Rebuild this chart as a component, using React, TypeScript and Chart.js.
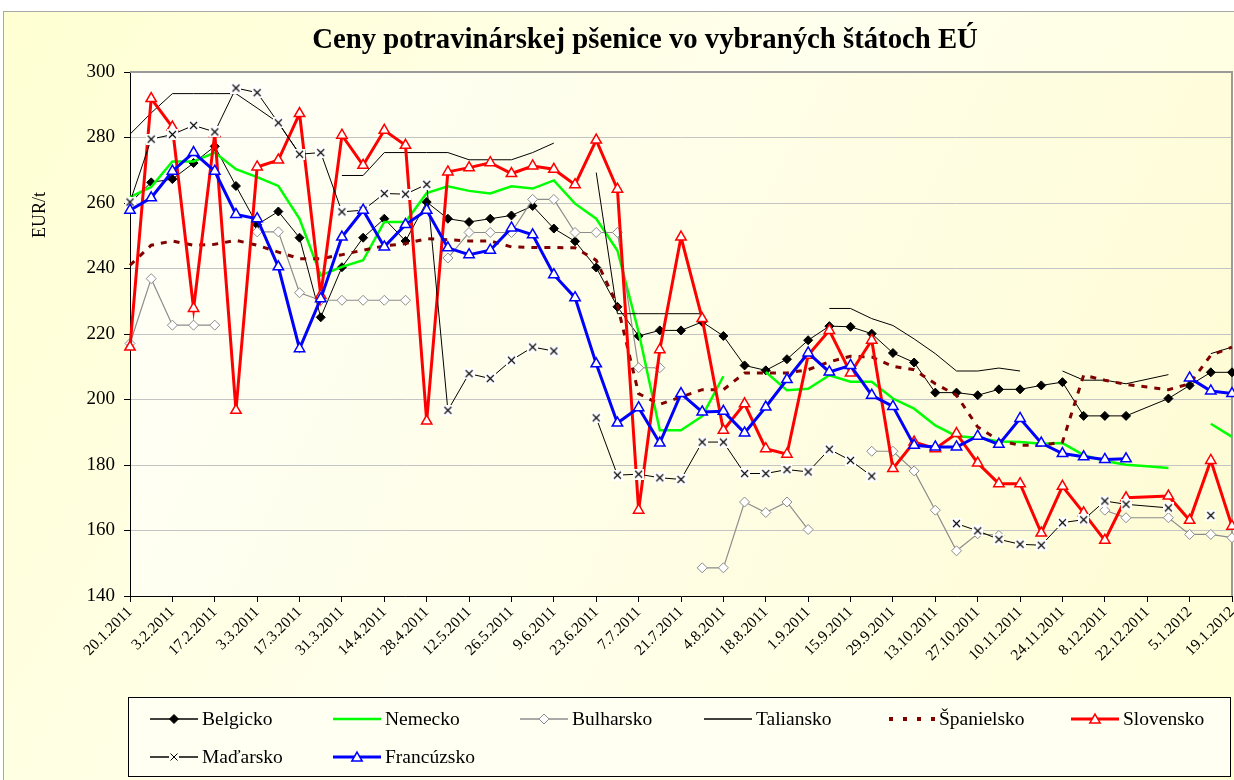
import React, { useEffect, useRef } from 'react';
import { Chart, registerables } from 'chart.js';

Chart.register(...registerables);

const chartTitle = 'Ceny potravinárskej pšenice vo vybraných štátoch EÚ';
const yAxisTitle = 'EUR/t';

const weeks = [
  '20.1.2011', '27.1.2011', '3.2.2011', '10.2.2011', '17.2.2011', '24.2.2011', '3.3.2011', '10.3.2011',
  '17.3.2011', '24.3.2011', '31.3.2011', '7.4.2011', '14.4.2011', '21.4.2011', '28.4.2011', '5.5.2011',
  '12.5.2011', '19.5.2011', '26.5.2011', '2.6.2011', '9.6.2011', '16.6.2011', '23.6.2011', '30.6.2011',
  '7.7.2011', '14.7.2011', '21.7.2011', '28.7.2011', '4.8.2011', '11.8.2011', '18.8.2011', '25.8.2011',
  '1.9.2011', '8.9.2011', '15.9.2011', '22.9.2011', '29.9.2011', '6.10.2011', '13.10.2011', '20.10.2011',
  '27.10.2011', '3.11.2011', '10.11.2011', '17.11.2011', '24.11.2011', '1.12.2011', '8.12.2011', '15.12.2011',
  '22.12.2011', '29.12.2011', '5.1.2012', '12.1.2012', '19.1.2012',
];

// week whose missing values are bridged by the lines (all other gaps break the line)
const bridgedWeek = '22.12.2011';

const yMin = 140;
const yMax = 300;
const yStep = 20;

const belgicko = [
  260, 266.3, 267.3, 272.2, 277.3, 265.2, 253.4, 257.4, 249.4, 225.1,
  240.4, 249.4, 255.2, 248.4, 260.3, 255.2, 254.2, 255.2, 256.2, 259.1,
  252.2, 248.3, 240.3, 228.3, 219.4, 221.1, 221.1, 223.7, 219.4, 210.4,
  208.9, 212.3, 218.1, 222.4, 222.2, 220.1, 214.2, 211.3, 202.1, 202.1,
  201.3, 203.1, 203.1, 204.3, 205.3, 195.0, 195.0, 195.0, null, 200.3,
  204.3, 208.3, 208.3,
];
const nemecko = [
  261.8, 264.9, 272.7, 272.7, 275.4, 270.3, 267.9, 265.2, 255.2, 237.9,
  240.5, 242.5, 254.2, 254.2, 263.0, 265.1, 263.7, 262.9, 265.1, 264.4,
  266.9, 259.8, 255.2, 245.5, 220.6, 190.6, 190.6, 194.9, 207.1, null,
  208.4, 202.8, 203.3, 207.4, 205.4, 205.4, 200.3, 197.2, 192.1, 188.8,
  188.3, 187.2, 187.0, 186.5, 186.7, 183.0, 181.2, 180.1, 179.6, 179.1,
  null, 192.6, 188.6,
];
const bulharsko = [
  217.1, 236.9, 222.7, 222.7, 222.7, null, 251.2, 251.2, 232.6, 230.3,
  230.3, 230.3, 230.3, 230.3, null, 243.2, 251.0, 251.0, 251.0, 261.1,
  261.1, 251.0, 251.0, 251.0, 209.7, 209.7, null, 148.6, 148.6, 168.7,
  165.5, 168.7, 160.3, null, null, 184.2, 184.2, 178.2, 166.2, 153.8,
  159.0, 158.5, null, null, null, null, 166.2, 163.9, null, 163.9,
  158.8, 158.8, 157.8,
];
const taliansko = [
  281.0, 287.5, 293.4, 293.4, 293.4, 293.4, 289.0, 284.5, 275.0, null,
  268.4, 268.4, 275.4, 275.4, 275.4, 275.4, 273.2, 273.2, 273.2, 275.4,
  278.3, null, 269.3, 226.2, 226.2, 226.2, 226.2, 226.2, null, null,
  null, null, null, 227.8, 227.8, 224.7, 222.6, 218.5, 214.0, 208.7,
  208.7, 209.6, 208.7, null, 208.7, 205.9, 205.9, 204.8, null, 207.6,
  null, 214.0, 216.0,
];
const spanielsko = [
  241.0, 247.1, 248.4, 247.1, 247.4, 248.6, 247.1, 245.0, 243.0, 243.0,
  244.2, 245.6, 246.9, 247.6, 249.1, 248.8, 248.4, 248.4, 246.6, 246.4,
  246.4, 246.3, 242.5, 228.8, 201.8, 198.5, 200.8, 203.0, 203.0, 208.1,
  208.1, 208.1, 209.1, 211.5, 213.2, 213.0, 210.1, 209.1, 204.8, 201.3,
  191.6, 187.5, 186.0, 186.0, 187.0, 207.4, 205.9, 204.6, 203.8, 203.0,
  204.8, 213.5, 216.0,
];
const slovensko = [
  216.0, 291.9, 283.2, 227.8, 281.2, 196.7, 271.0, 273.1, 287.3, 231.8,
  280.7, 271.5, 282.2, 277.6, 193.4, 269.5, 270.8, 272.3, 269.0, 271.3,
  270.3, 265.6, 279.2, 264.2, 166.2, 215.2, 249.6, 224.7, 190.6, 198.7,
  185.0, 183.3, 213.5, 221.1, 208.1, 218.1, 178.9, 187.0, 185.0, 189.6,
  180.6, 174.3, 174.3, 159.2, 173.5, 165.4, 157.0, 170.0, null, 170.5,
  163.1, 181.4, 161.3,
];
const madarsko = [
  260.3, 279.5, 280.9, 283.7, 281.7, 295.1, 293.7, 284.5, 274.9, 275.4,
  257.3, 257.8, 262.9, 262.7, 265.7, 196.7, 207.9, 206.4, 212.0, 216.0,
  214.8, null, 194.4, 176.9, 177.2, 176.1, 175.6, 187.0, 187.0, 177.4,
  177.4, 178.6, 177.9, 184.8, 181.4, 176.6, null, null, null, 162.1,
  159.9, 157.3, 155.8, 155.5, 162.4, 163.3, 169.0, 168.0, null, 166.9,
  null, 164.6, null,
];
const francuzsko = [
  257.8, 261.6, 269.7, 275.4, 269.7, 256.5, 255.2, 240.5, 215.5, 230.8,
  249.6, 257.8, 246.6, 253.4, 257.8, 246.3, 244.2, 245.6, 252.4, 250.3,
  238.1, 231.1, 210.9, 192.8, 197.5, 186.7, 201.8, 196.2, 196.4, 189.8,
  197.7, 206.1, 214.2, 208.4, 210.4, 201.3, 197.9, 186.0, 185.5, 185.5,
  188.8, 186.3, 194.2, 186.7, 183.5, 182.5, 181.7, 181.9, null, null,
  206.6, 202.6, 201.8,
];

const seriesNames = ['Belgicko', 'Nemecko', 'Bulharsko', 'Taliansko', 'Španielsko', 'Slovensko', 'Maďarsko', 'Francúzsko'];
const seriesData = [belgicko, nemecko, bulharsko, taliansko, spanielsko, slovensko, madarsko, francuzsko];

const SERIF = "'Liberation Serif', 'Times New Roman', 'DejaVu Serif', serif";

type Marker = 'diamondFilled' | 'diamondHollow' | 'triangle' | 'cross' | 'none';
interface Style { color: string; width: number; dash?: number[]; marker: Marker; }

const seriesStyles: Style[] = [
  { color: '#000000', width: 1, marker: 'diamondFilled' },
  { color: '#00FF00', width: 2.5, marker: 'none' },
  { color: '#8C8C8C', width: 1.2, marker: 'diamondHollow' },
  { color: '#000000', width: 1, marker: 'none' },
  { color: '#800000', width: 3, dash: [6, 7], marker: 'none' },
  { color: '#FF0000', width: 3, marker: 'triangle' },
  { color: '#000000', width: 1, marker: 'cross' },
  { color: '#0000FF', width: 3, marker: 'triangle' },
];

const legendLayout = [
  { x: 150, row: 0 }, { x: 333, row: 0 }, { x: 520, row: 0 }, { x: 704, row: 0 },
  { x: 887, row: 0 }, { x: 1071, row: 0 }, { x: 150, row: 1 }, { x: 333, row: 1 },
];

function makeCrossImage(size: number) {
  const c = document.createElement('canvas');
  c.width = size; c.height = size;
  const g = c.getContext('2d')!;
  g.fillStyle = '#ffffff';
  g.fillRect(0, 0, size, size);
  g.strokeStyle = '#000000';
  g.lineWidth = 1.1;
  g.beginPath();
  g.moveTo(2, 2); g.lineTo(size - 2, size - 2);
  g.moveTo(size - 2, 2); g.lineTo(2, size - 2);
  g.stroke();
  return c;
}

function drawDiamond(ctx: CanvasRenderingContext2D, x: number, y: number, r: number, fill: string, stroke: string) {
  ctx.beginPath();
  ctx.moveTo(x, y - r); ctx.lineTo(x + r, y); ctx.lineTo(x, y + r); ctx.lineTo(x - r, y); ctx.closePath();
  ctx.fillStyle = fill; ctx.fill();
  ctx.strokeStyle = stroke; ctx.lineWidth = 1; ctx.stroke();
}
function drawTriangle(ctx: CanvasRenderingContext2D, x: number, y: number, r: number, stroke: string) {
  ctx.beginPath();
  ctx.moveTo(x, y - r);
  ctx.lineTo(x + r * 0.866, y + r * 0.5);
  ctx.lineTo(x - r * 0.866, y + r * 0.5);
  ctx.closePath();
  ctx.fillStyle = '#ffffff'; ctx.fill();
  ctx.strokeStyle = stroke; ctx.lineWidth = 1.5; ctx.stroke();
}

const decorPlugin = {
  id: 'decor',
  beforeDraw(chart: any) {
    const { ctx, width, height, chartArea } = chart;
    ctx.save();
    ctx.fillStyle = '#ffffff';
    ctx.fillRect(0, 0, width, height);
    const g = ctx.createLinearGradient(0, 0, width, height);
    g.addColorStop(0, '#FFFFD2');
    g.addColorStop(0.5, '#FFFFEE');
    g.addColorStop(1, '#FFFFD6');
    ctx.fillStyle = g;
    ctx.fillRect(3, 11, width - 3, height - 11);
    ctx.strokeStyle = '#A8A8A8';
    ctx.lineWidth = 1;
    ctx.strokeRect(3.5, 11.5, width - 3, height - 11);
    const { left, top, right, bottom } = chartArea;
    const pg = ctx.createLinearGradient(left, top, right, bottom);
    pg.addColorStop(0, '#FFFFF8');
    pg.addColorStop(1, '#FEFCD4');
    ctx.fillStyle = pg;
    ctx.fillRect(left, top, right - left, bottom - top);
    ctx.restore();
  },
  beforeDatasetsDraw(chart: any) {
    const { ctx, chartArea } = chart;
    const { left, top, right, bottom } = chartArea;
    ctx.save();
    ctx.strokeStyle = '#9A9A9A';
    ctx.lineWidth = 2;
    ctx.beginPath();
    ctx.moveTo(left, top);
    ctx.lineTo(right, top);
    ctx.lineTo(right, bottom);
    ctx.stroke();
    ctx.restore();
  },
  afterDraw(chart: any) {
    const { ctx } = chart;
    ctx.save();
    // title
    let size = 28;
    ctx.font = `bold ${size}px ${SERIF}`;
    const w = ctx.measureText(chartTitle).width;
    size = Math.max(20, Math.min(34, size * 666 / w));
    ctx.font = `bold ${size}px ${SERIF}`;
    ctx.fillStyle = '#000';
    ctx.textAlign = 'center';
    ctx.textBaseline = 'middle';
    ctx.fillText(chartTitle, 645, 41);
    // y title
    ctx.save();
    ctx.translate(40, 215);
    ctx.rotate(-Math.PI / 2);
    ctx.font = `18px ${SERIF}`;
    ctx.fillText(yAxisTitle, 0, 0);
    ctx.restore();
    // legend
    ctx.fillStyle = '#FFFFF2';
    ctx.fillRect(128.5, 697.5, 1102, 79);
    ctx.strokeStyle = '#000';
    ctx.lineWidth = 1;
    ctx.strokeRect(128.5, 697.5, 1102, 79);
    const rows = [719, 757];
    ctx.textAlign = 'left';
    ctx.font = `19.5px ${SERIF}`;
    seriesNames.forEach((name, i) => {
      const st = seriesStyles[i];
      const lay = legendLayout[i];
      const y = rows[lay.row];
      const x0 = lay.x, x1 = lay.x + 48, xm = (x0 + x1) / 2;
      ctx.save();
      if (st.dash) {
        ctx.fillStyle = st.color;
        for (let k = 0; k < 4; k++) ctx.fillRect(x0 + 2 + k * 14, y - 2, 4, 4);
      } else {
        ctx.strokeStyle = st.color;
        ctx.lineWidth = Math.max(1.5, st.width);
        ctx.beginPath();
        ctx.moveTo(x0, y); ctx.lineTo(x1, y);
        ctx.stroke();
      }
      if (st.marker === 'diamondFilled') drawDiamond(ctx, xm, y, 4.5, '#000', '#000');
      if (st.marker === 'diamondHollow') drawDiamond(ctx, xm, y, 5, '#fff', st.color);
      if (st.marker === 'triangle') drawTriangle(ctx, xm, y + 1, 6, st.color);
      if (st.marker === 'cross') {
        ctx.fillStyle = '#FFFFF2';
        ctx.fillRect(xm - 5, y - 5, 10, 10);
        ctx.strokeStyle = '#000'; ctx.lineWidth = 1;
        ctx.beginPath();
        ctx.moveTo(xm - 3.5, y - 3.5); ctx.lineTo(xm + 3.5, y + 3.5);
        ctx.moveTo(xm + 3.5, y - 3.5); ctx.lineTo(xm - 3.5, y + 3.5);
        ctx.stroke();
      }
      ctx.restore();
      ctx.fillStyle = '#000';
      ctx.fillText(name, x1 + 4, y + 1);
    });
    ctx.restore();
  },
};

export default function App() {
  const ref = useRef<HTMLCanvasElement | null>(null);
  useEffect(() => {
    if (!ref.current) return;
    const bridged = weeks.indexOf(bridgedWeek);
    const cross = makeCrossImage(11);
    // a segment whose start index holds no value spans a gap; only the bridged week is drawn
    const segment = {
      borderColor: (c: any) => {
        const data = seriesData[c.datasetIndex];
        const a = c.p0DataIndex;
        if (data[a] === null || data[a] === undefined) {
          const ok = a === bridged && data[a - 1] != null && data[a + 1] != null;
          if (!ok) return 'rgba(0,0,0,0)';
        }
        return undefined;
      },
    };
    const datasets = seriesNames.map((name, i) => {
      const st = seriesStyles[i];
      const base: any = {
        label: name,
        data: seriesData[i],
        borderColor: st.color,
        backgroundColor: st.color,
        borderWidth: st.width,
        borderDash: st.dash || [],
        spanGaps: true,
        segment,
        tension: 0,
        fill: false,
        order: seriesNames.length - i,
        pointRadius: 0,
        pointHoverRadius: 0,
      };
      if (st.marker === 'diamondFilled') {
        Object.assign(base, { pointStyle: 'rectRot', pointRadius: 4.5, pointBackgroundColor: '#000', pointBorderColor: '#000', pointBorderWidth: 1 });
      } else if (st.marker === 'diamondHollow') {
        Object.assign(base, { pointStyle: 'rectRot', pointRadius: 5, pointBackgroundColor: '#fff', pointBorderColor: st.color, pointBorderWidth: 1 });
      } else if (st.marker === 'triangle') {
        Object.assign(base, { pointStyle: 'triangle', pointRadius: 6, pointBackgroundColor: '#fff', pointBorderColor: st.color, pointBorderWidth: 1.5 });
      } else if (st.marker === 'cross') {
        Object.assign(base, { pointStyle: cross, pointRadius: 5 });
      }
      return base;
    });

    const chart = new Chart(ref.current, {
      type: 'line',
      data: { labels: weeks, datasets },
      options: {
        animation: false,
        responsive: false,
        devicePixelRatio: 1,
        layout: { autoPadding: false, padding: { left: 0, right: 2, top: 72, bottom: 0 } },
        plugins: {
          legend: { display: false },
          title: { display: false },
          tooltip: { enabled: false },
        },
        events: [],
        scales: {
          x: {
            type: 'category',
            offset: false,
            grid: {
              drawOnChartArea: false,
              tickLength: 6,
              tickColor: (c: any) => (c.index % 2 === 0 ? '#000' : 'rgba(0,0,0,0)'),
            },
            border: { color: '#000', width: 1 },
            ticks: {
              autoSkip: false,
              maxRotation: 45,
              minRotation: 45,
              padding: 1,
              color: '#000',
              font: { family: SERIF, size: 15.5 },
              callback: (_v: any, i: number) => (i % 2 === 0 ? weeks[i] : ''),
            },
            afterFit: (s: any) => { s.height = 184; s.paddingLeft = 0; s.paddingRight = 0; },
          },
          y: {
            min: yMin,
            max: yMax,
            grid: {
              color: '#C4C4C4',
              tickColor: '#000',
              tickLength: 6,
              lineWidth: 1,
            },
            border: { color: '#000', width: 1 },
            ticks: {
              stepSize: yStep,
              padding: 9,
              color: '#000',
              font: { family: SERIF, size: 19 },
            },
            afterFit: (s: any) => { s.width = 130; s.paddingTop = 0; s.paddingBottom = 0; },
          },
        },
      },
      plugins: [decorPlugin],
    } as any);
    return () => chart.destroy();
  }, []);

  return (
    <div style={{ position: 'absolute', left: 0, top: 0, width: 1234, height: 780 }}>
      <canvas ref={ref} width={1234} height={780} style={{ display: 'block', width: 1234, height: 780 }} />
    </div>
  );
}
